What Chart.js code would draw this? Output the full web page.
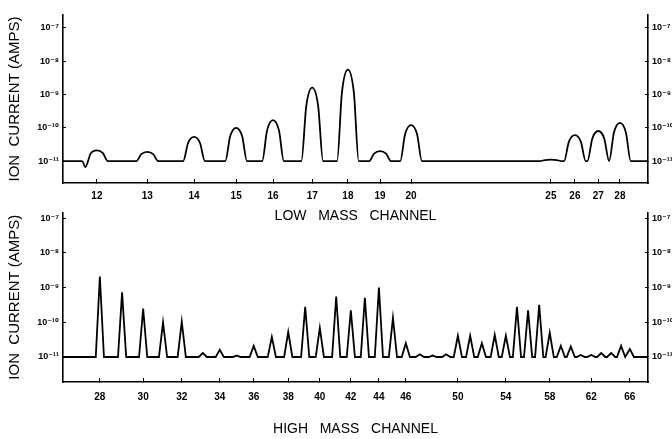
<!DOCTYPE html>
<html>
<head>
<meta charset="utf-8">
<script src="https://cdn.jsdelivr.net/npm/chart.js@4.4.0/dist/chart.umd.min.js"></script>
<style>
  html, body { margin: 0; padding: 0; background: #fff; }
  #wrap { position: relative; width: 672px; height: 439px; }
  canvas { position: absolute; left: 0; }
  #lowChart { top: 0; }
  #highChart { top: 200px; }
</style>
</head>
<body>
<div id="wrap">
  <canvas id="lowChart" width="672" height="228"></canvas>
  <canvas id="highChart" width="672" height="239"></canvas>
</div>
<script>
// scan position along the sweep (0 = left edge of plot, 100 = right edge)
// and peak ion current (amps) read for each mass
const lowMass = [12, 13, 14, 15, 16, 17, 18, 19, 20, 25, 26, 27, 28];
const lowPos  = [5.8, 14.4, 22.4, 29.6, 35.9, 42.6, 48.7, 54.2, 59.5, 83.4, 87.5, 91.5, 95.2];
const lowPeak = [2.1e-11, 1.9e-11, 5.3e-11, 1.0e-10, 1.7e-10, 1.6e-9, 5.6e-9, 2.0e-11, 1.2e-10, 1.1e-11, 6.0e-11, 8.0e-11, 1.4e-10];
const lowDip = {x: 3.8, y: 6.6e-12}; // small negative swing just before mass 12

const highMass = [28, 29, 30, 31, 32, 33, 34, 35, 36, 37, 38, 39, 40, 41, 42, 43, 44, 45, 46, 47,
                  48, 49, 50, 51, 52, 53, 54, 55, 56, 57, 58, 59, 60, 61, 62, 63, 64, 65, 66];
const highPos  = [6.3, 10.1, 13.7, 17.1, 20.3, 23.9, 26.8, 29.7, 32.6, 35.7, 38.5, 41.4, 43.9, 46.7,
                  49.2, 51.6, 54.0, 56.4, 58.6, 61.0, 63.2, 65.5, 67.5, 69.6, 71.6, 73.8, 75.7, 77.6,
                  79.5, 81.4, 83.2, 85.1, 86.8, 88.5, 90.3, 92.0, 93.7, 95.4, 96.9];
const highPeak = [2.1e-9, 7.3e-10, 2.5e-10, 1.0e-10, 1.05e-10, 1.3e-11, 1.6e-11, 1.1e-11, 2.1e-11,
                  3.8e-11, 5.3e-11, 2.8e-10, 6.9e-11, 5.5e-10, 2.2e-10, 5.1e-10, 1.0e-9, 1.35e-10,
                  2.5e-11, 1.2e-11, 1.1e-11, 1.2e-11, 4.1e-11, 4.1e-11, 2.5e-11, 4.3e-11, 4.1e-11,
                  2.8e-10, 2.2e-10, 3.2e-10, 5.0e-11, 2.1e-11, 2.0e-11, 1.15e-11, 1.15e-11, 1.3e-11,
                  1.3e-11, 2.1e-11, 1.7e-11];
const highLabelled = [28, 30, 32, 34, 36, 38, 40, 42, 44, 46, 50, 54, 58, 62, 66];

const baseline = 1e-11;
const decades = [1e-11, 1e-10, 1e-9, 1e-8, 1e-7];
const sup = {'0': '⁰', '1': '¹', '2': '²', '3': '³', '4': '⁴', '5': '⁵', '6': '⁶', '7': '⁷', '8': '⁸', '9': '⁹', '-': '⁻'};

function powLabel(v) {
  const e = String(Math.round(Math.log10(v)));
  return '10' + e.split('').map(c => sup[c]).join('');
}

// baseline - foot - (shoulder) - peak - (shoulder) - foot for each mass
function trace(pos, peak, hw, shoulder) {
  const pts = [{x: 0, y: baseline}];
  pos.forEach((p, i) => {
    pts.push({x: p - hw, y: baseline});
    const sh = baseline * Math.pow(peak[i] / baseline, 0.75);
    if (shoulder) pts.push({x: p - hw * 0.55, y: sh});
    pts.push({x: p, y: peak[i]});
    if (shoulder) pts.push({x: p + hw * 0.55, y: sh});
    pts.push({x: p + hw, y: baseline});
  });
  pts.push({x: 100, y: baseline});
  return pts;
}

const lowPts = trace(lowPos, lowPeak, 1.85, true);
lowPts.splice(1, 1, {x: 3.3, y: baseline}, lowDip);
const highPts = trace(highPos, highPeak, 0.7, false);

const black = '#000';

// tick marks point into the plot, as on the original chart paper
function yAxis(pos, min, max) {
  return {
    type: 'logarithmic',
    position: pos,
    min: min,
    max: max,
    afterBuildTicks: s => { s.ticks = decades.map(v => ({value: v})); },
    afterFit: s => { s.width = pos === 'left' ? 63 : 24; },
    ticks: {callback: v => powLabel(v), autoSkip: false, font: {family: 'Liberation Sans, DejaVu Sans', size: 9, weight: 'bold'}, color: black, padding: 7},
    grid: {drawOnChartArea: false, tickLength: -3, color: black},
    border: {color: black, width: 1.6},
    title: {
      display: pos === 'left',
      text: 'ION  CURRENT (AMPS)',
      font: {family: 'Liberation Sans', size: 15},
      color: black,
      padding: {top: 6, bottom: 0}
    }
  };
}

function xAxis(tickPos, tickLabels, height, title, titlePad, labelPad) {
  return {
    type: 'linear',
    min: 0,
    max: 100,
    afterBuildTicks: s => { s.ticks = tickPos.map(v => ({value: v})); },
    afterFit: s => { s.height = height; },
    ticks: {callback: (v, i) => tickLabels[i], autoSkip: false, maxRotation: 0, font: {family: 'Liberation Sans, DejaVu Sans', size: 10, weight: 'bold'}, color: black, padding: labelPad},
    grid: {drawOnChartArea: false, tickLength: -4, color: black},
    border: {color: black, width: 1.6},
    title: {display: true, text: title, font: {family: 'Liberation Sans', size: 14}, color: black, padding: {top: 0, bottom: titlePad}}
  };
}

function drawPanel(id, pts, scales, padTop, smooth) {
  new Chart(document.getElementById(id), {
    type: 'line',
    data: {
      datasets: [{
        data: pts,
        borderColor: black,
        borderWidth: 1.8,
        pointRadius: 0,
        cubicInterpolationMode: smooth ? 'monotone' : 'default',
        tension: 0,
        yAxisID: 'y'
      }]
    },
    options: {
      responsive: false,
      animation: false,
      layout: {padding: {top: padTop, left: 0, right: 0, bottom: 0}},
      plugins: {legend: {display: false}, tooltip: {enabled: false}},
      scales: scales
    }
  });
}

const highTickPos = highLabelled.map(m => highPos[highMass.indexOf(m)]);

drawPanel('lowChart', lowPts, {
  x: xAxis(lowPos, lowMass, 45, 'LOW   MASS   CHANNEL', 3, 11),
  y: yAxis('left', 2.19e-12, 2.45e-7),
  y2: yAxis('right', 2.19e-12, 2.45e-7)
}, 15, true);

drawPanel('highChart', highPts, {
  x: xAxis(highTickPos, highLabelled, 57, 'HIGH   MASS   CHANNEL', 1, 13),
  y: yAxis('left', 1.9e-12, 1.48e-7),
  y2: yAxis('right', 1.9e-12, 1.48e-7)
}, 12, false);
</script>
</body>
</html>
